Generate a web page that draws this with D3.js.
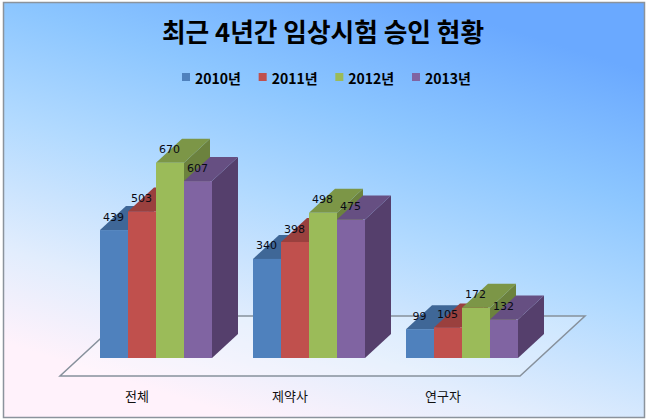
<!DOCTYPE html>
<html><head><meta charset="utf-8">
<script src="https://cdn.jsdelivr.net/npm/d3@7"></script>
<style>html,body{margin:0;padding:0;background:#fff;overflow:hidden}svg{display:block}</style>
</head><body><svg id="c" width="648" height="420"></svg>
<script>
const categories = ["전체", "제약사", "연구자"];
const seriesNames = ["2010년", "2011년", "2012년", "2013년"];
const values2010 = [439, 340, 99];
const values2011 = [503, 398, 105];
const values2012 = [670, 498, 172];
const values2013 = [607, 475, 132];
const allValues = [values2010, values2011, values2012, values2013];
const frontColors = ["#4f81bd", "#c0504d", "#9bbb59", "#8064a2"];
const topColors = ["#3f6797", "#9a403e", "#7c9647", "#664f82"];
const sideColors = ["#375a84", "#863836", "#6c823e", "#553f6c"];
const title = "최근 4년간 임상시험 승인 현황";

const dx = 26, dy = -24;
const svg = d3.select("#c");
const defs = svg.append("defs");
const g = defs.append("linearGradient").attr("id","bg").attr("gradientUnits","userSpaceOnUse")
  .attr("x1",265).attr("y1",425).attr("x2",400).attr("y2",-5);
[[0,"#fff2fb"],[0.2,"#e2edfd"],[0.48,"#b2daff"],[0.72,"#8cc6ff"],[1,"#6aa9ff"]]
  .forEach(([o,c])=>g.append("stop").attr("offset",o).attr("stop-color",c));

svg.append("rect").attr("x",3.5).attr("y",2.5).attr("width",641).attr("height",415)
  .attr("fill","url(#bg)").attr("stroke","#8b939c").attr("stroke-width",1.5);

svg.append("text").attr("x",323).attr("y",42).attr("text-anchor","middle")
  .attr("font-family","'Noto Sans CJK KR'").attr("font-weight",700).attr("font-size",25.7)
  .attr("fill","#000").text(title);

const legendX = d3.scalePoint().domain(seriesNames).range([182,412]);
const lg = svg.append("g").selectAll("g").data(seriesNames).join("g")
  .attr("transform",d=>`translate(${legendX(d)},0)`);
lg.append("rect").attr("y",73).attr("width",8).attr("height",8).attr("fill",(d,i)=>frontColors[i]);
lg.append("text").attr("x",13).attr("y",83.5)
  .attr("font-family","'Noto Sans CJK KR'").attr("font-weight",700).attr("font-size",14)
  .attr("fill","#000").text(d=>d);

const baseY = 358;
const y = d3.scaleLinear().domain([0,700]).range([baseY,154]);
const x0 = d3.scaleBand().domain(categories).range([23.5,482.5]);
const groupX = c => x0(c) + 76.5;
const x1 = d3.scaleBand().domain(d3.range(4)).range([0,112]);

const floor = [[60,376],[520,376],[585,316],[125,316]];
svg.append("path").attr("d","M"+floor.map(p=>p.join(",")).join("L")+"Z")
  .attr("fill","#ffffff").attr("fill-opacity",0.25)
  .attr("stroke","#87919c").attr("stroke-width",1.5);

const bars = svg.append("g");
categories.forEach((c,ci)=>{
  d3.range(4).forEach(si=>{
    const v = allValues[si][ci];
    const xa = groupX(c)+x1(si), w = x1.bandwidth(), t = y(v);
    const b = bars.append("g");
    b.append("path").attr("fill",sideColors[si])
      .attr("d",`M${xa+w},${t}L${xa+w+dx},${t+dy}L${xa+w+dx},${baseY+dy}L${xa+w},${baseY}Z`);
    b.append("path").attr("fill",topColors[si])
      .attr("d",`M${xa},${t}L${xa+dx},${t+dy}L${xa+w+dx},${t+dy}L${xa+w},${t}Z`);
    b.append("rect").attr("x",xa).attr("y",t).attr("width",w).attr("height",baseY-t).attr("fill",frontColors[si]);
  });
});

const labels = svg.append("g").attr("font-family","'DejaVu Sans'").attr("font-size",11).attr("fill","#0a0a14").attr("text-anchor","middle");
categories.forEach((c,ci)=>{
  d3.range(4).forEach(si=>{
    labels.append("text").attr("x",groupX(c)+x1(si)+x1.bandwidth()/2-0.5).attr("y",y(allValues[si][ci])-9.5).text(allValues[si][ci]);
  });
});

svg.append("g").selectAll("text").data(categories).join("text")
  .attr("x",c=>groupX(c)+37).attr("y",400.5).attr("text-anchor","middle")
  .attr("font-family","'Noto Sans CJK KR'").attr("font-size",13).attr("fill","#111").text(c=>c);
</script></body></html>
